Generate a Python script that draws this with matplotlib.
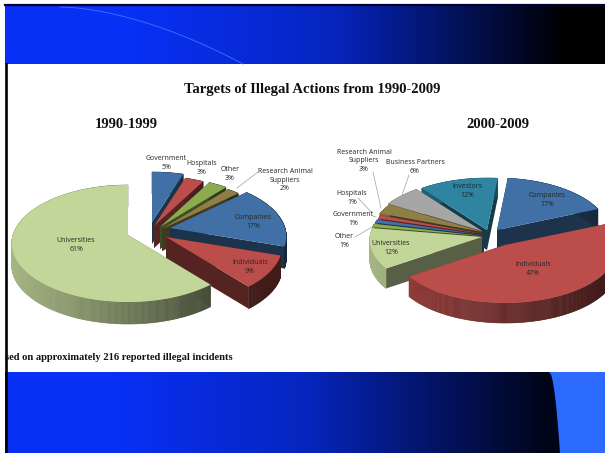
import numpy as np
from matplotlib import pyplot as plt
from matplotlib.patches import Polygon

WIDTH = 605
HEIGHT = 453

TITLE = 'Targets of Illegal Actions from 1990-2009'
FOOTNOTE = 'sed on approximately 216 reported illegal incidents'

LEFT_TITLE = '1990-1999'
LEFT_LABELS = ['Government', 'Hospitals', 'Other', 'Research Animal\nSuppliers',
               'Companies', 'Individuals', 'Universities']
LEFT_SHARES = [5, 3, 3, 2, 17, 9, 61]

RIGHT_TITLE = '2000-2009'
RIGHT_LABELS = ['Companies', 'Individuals', 'Universities', 'Other', 'Government',
                'Hospitals', 'Research Animal\nSuppliers', 'Business Partners', 'Investors']
RIGHT_SHARES = [17, 47, 12, 1, 1, 1, 3, 6, 12]

# Slice colours
BLUE = '#4070a6'
RED = '#bb4e4b'
GREEN = '#c2d69a'
OLIVE = '#8cab4f'
KHAKI = '#8f7f47'
GREY = '#a6a6a6'
TEAL = '#2f84a0'

LEFT_STYLE = {
    'first_angle': 0, 'rx': 115, 'top': 50, 'bottom': 67, 'depth': 22,
    'shade_range': (12, 215),
    'colors': [BLUE, RED, OLIVE, KHAKI, BLUE, RED, GREEN],
    'apex': [(152, 222), (154, 226), (160, 227), (162, 229),
             (170, 228), (166, 237), (128, 235)],
    'order': [0, 1, 2, 3, 4, 5, 6],
    'label_pos': [(166, 163), (202, 168), (230, 174), (285, 180),
                  (253, 222), (250, 267), (76, 245)],
}

RIGHT_STYLE = {
    'first_angle': 5.8, 'rx': 112, 'top': 52, 'bottom': 58, 'depth': 20,
    'shade_range': (370, 600),
    'colors': [BLUE, RED, GREEN, OLIVE, BLUE, RED, KHAKI, GREY, TEAL],
    'apex': [(497, 230), (505, 245), (482, 237), (482, 236), (483, 235),
             (484, 234), (483, 232), (482, 231), (487, 230)],
    'order': [8, 7, 6, 5, 4, 3, 0, 2, 1],
    'label_pos': [(547, 200), (533, 269), (391, 248), (344, 241), (353, 219),
                  (352, 198), (364, 161), (415, 167), (467, 191)],
}

LEADERS = [
    ((258, 172), (237, 188)),
    ((373, 172), (381, 208)),
    ((409, 175), (402, 195)),
    ((358, 198), (372, 213)),
    ((373, 216), (376, 217)),
    ((355, 237), (372, 227)),
]


def darker(color, factor):
    rgb = np.array(plt.matplotlib.colors.to_rgb(color))
    return tuple(rgb * factor)


def project(angle, style):
    # Clockwise degrees from 12 o'clock, squashed so the near side looks bigger
    u = np.sin(np.radians(angle))
    v = np.cos(np.radians(angle))
    top = style['top']
    bottom = style['bottom']
    ry = 2 * top * bottom / (top + bottom)
    k = (bottom - top) / (bottom + top)
    return style['rx'] * u / (1 + k * v), -ry * v / (1 + k * v)


def draw_slice(ax, start, end, index, style):
    ax_x, ax_y = style['apex'][index]
    color = style['colors'][index]
    depth = style['depth']
    x_range = style['shade_range']

    angles = np.linspace(start, end, max(int(end - start) * 2, 4))
    dx, dy = project(angles, style)
    xs = ax_x + dx
    ys = ax_y + dy

    # Cut faces
    for x, y in [(xs[0], ys[0]), (xs[-1], ys[-1])]:
        ax.add_patch(Polygon(
            [(ax_x, ax_y), (x, y), (x, y + depth), (ax_x, ax_y + depth)],
            facecolor=darker(color, 0.45), edgecolor='none'))

    # Rim, shaded from left to right
    for i in range(len(xs) - 1):
        where = (xs[i] - x_range[0]) / (x_range[1] - x_range[0])
        shade = 0.85 - 0.5 * np.clip(where, 0, 1)
        rim = darker(color, shade)
        ax.add_patch(Polygon(
            [(xs[i], ys[i]), (xs[i + 1], ys[i + 1]),
             (xs[i + 1], ys[i + 1] + depth), (xs[i], ys[i] + depth)],
            facecolor=rim, edgecolor=rim, linewidth=0.4))

    outline = np.column_stack([np.r_[ax_x, xs], np.r_[ax_y, ys]])
    ax.add_patch(Polygon(outline, facecolor=color, edgecolor='none'))


def draw_pie(ax, labels, shares, style):
    edges = style['first_angle'] + np.cumsum([0] + shares) * 3.6

    for index in style['order']:
        draw_slice(ax, edges[index], edges[index + 1], index, style)

    for label, share, (x, y) in zip(labels, shares, style['label_pos']):
        ax.text(x, y, f'{label}\n{share}%', ha='center', va='center', fontsize=5,
                family='Open Sans', color='#262626', linespacing=1.25)


def draw_background(ax):
    # Top and bottom bands fade from blue to black
    columns = np.arange(WIDTH)
    ramp = np.interp(columns, [130, 330, 565], [1, 0.78, 0])
    band = np.zeros((1, WIDTH, 3))
    band[0, :, 0] = 8 / 255 * ramp
    band[0, :, 1] = 48 / 255 * ramp
    band[0, :, 2] = 245 / 255 * ramp
    ax.imshow(band, extent=(4.5, WIDTH, 64, 4), aspect='auto', zorder=0)

    low_ramp = np.interp(columns, [110, 300, 545], [1, 0.78, 0.1])
    low_band = np.zeros((1, WIDTH, 3))
    low_band[0, :, 0] = 8 / 255 * low_ramp
    low_band[0, :, 1] = 48 / 255 * low_ramp
    low_band[0, :, 2] = 245 / 255 * low_ramp
    ax.imshow(low_band, extent=(4.5, WIDTH, HEIGHT, 372), aspect='auto', zorder=0)

    # Light corner and thin swoosh
    ys = np.linspace(372, HEIGHT, 30)
    edge = 549 + 11 * np.sqrt((ys - 372) / 81)
    ax.add_patch(Polygon(
        np.r_[np.column_stack([edge, ys]), [(WIDTH, HEIGHT), (WIDTH, 372)]],
        facecolor='#2d6bff', edgecolor='none', zorder=1))
    sx = np.linspace(60, 243, 40)
    sy = 7 + 57 * ((sx - 60) / 183) ** 1.7
    ax.plot(sx, sy, color='#3f73ff', linewidth=0.6, zorder=1)

    # Dark frame along the top and the left
    ax.plot([4.5, WIDTH], [5, 5], color='#000033', linewidth=1.6, zorder=2)
    ax.plot([6, 6], [64, HEIGHT], color='black', linewidth=1.9, zorder=2)


def main():
    fig = plt.figure(figsize=(WIDTH / 100, HEIGHT / 100), dpi=100)
    ax = fig.add_axes([0, 0, 1, 1])
    ax.axis('off')

    draw_background(ax)
    ax.set_xlim(0, WIDTH)
    ax.set_ylim(HEIGHT, 0)

    draw_pie(ax, LEFT_LABELS, LEFT_SHARES, LEFT_STYLE)
    draw_pie(ax, RIGHT_LABELS, RIGHT_SHARES, RIGHT_STYLE)

    for start, end in LEADERS:
        ax.plot([start[0], end[0]], [start[1], end[1]], color='#a0a0a0', linewidth=0.5)

    serif = {'family': 'Liberation Serif', 'weight': 'bold', 'color': '#111111'}
    ax.text(312.5, 90, TITLE, ha='center', va='center', fontsize=10.55, **serif)
    ax.text(126.5, 125, LEFT_TITLE, ha='center', va='center', fontsize=10.5, **serif)
    ax.text(498, 125, RIGHT_TITLE, ha='center', va='center', fontsize=10.5, **serif)
    ax.text(5, 358, FOOTNOTE, ha='left', va='center', fontsize=7.55, **serif)

    plt.savefig('out.png', dpi=100)


if __name__ == '__main__':
    main()
